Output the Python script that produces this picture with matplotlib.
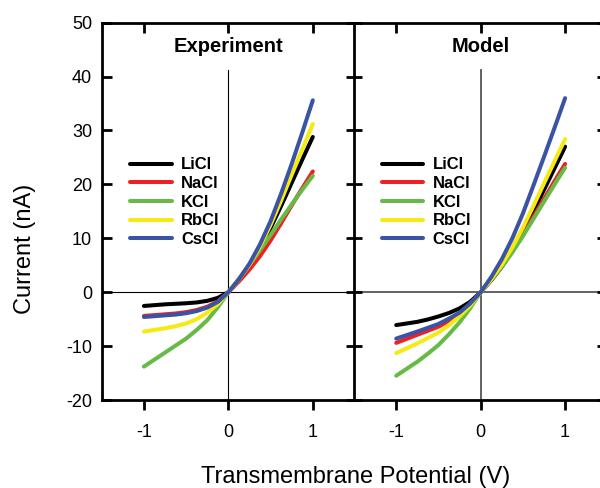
import matplotlib
matplotlib.use("Agg")
import matplotlib.pyplot as plt

plt.rcParams['font.family'] = ['Liberation Sans', 'DejaVu Sans']

# potentials (V) at which the curves were read
volts = [-1.0, -0.875, -0.75, -0.625, -0.5, -0.375, -0.25, -0.125, 0.0,
         0.125, 0.25, 0.375, 0.5, 0.625, 0.75, 0.875, 1.0]

salts = ["LiCl", "NaCl", "KCl", "RbCl", "CsCl"]
colors = ["#000000", "#ee2024", "#66bb46", "#f5ea14", "#3b53a4"]

# Experiment currents (nA)
exp_licl = [-2.55, -2.4, -2.25, -2.15, -2.05, -1.9, -1.6, -1.05, 0.0,
            2.3, 4.9, 8.1, 11.9, 16.0, 20.3, 24.6, 28.8]
exp_nacl = [-4.4, -4.25, -4.1, -3.95, -3.7, -3.3, -2.7, -1.7, 0.0,
            2.0, 4.2, 6.7, 9.6, 12.8, 16.1, 19.3, 22.4]
exp_kcl = [-13.8, -12.5, -11.2, -9.9, -8.6, -7.0, -5.2, -2.8, 0.0,
           2.5, 5.1, 7.8, 10.6, 13.5, 16.3, 19.0, 21.6]
exp_rbcl = [-7.3, -7.0, -6.7, -6.3, -5.8, -5.0, -3.8, -2.2, 0.0,
            2.4, 5.1, 8.5, 12.5, 17.0, 21.8, 26.5, 31.2]
exp_cscl = [-4.6, -4.45, -4.3, -4.15, -3.9, -3.5, -2.85, -1.8, 0.0,
            2.4, 5.3, 8.9, 13.2, 18.3, 23.8, 29.6, 35.6]

# Model currents (nA)
mod_licl = [-6.1, -5.8, -5.5, -5.05, -4.5, -3.85, -3.0, -1.8, 0.0,
            2.2, 4.7, 7.7, 11.1, 15.0, 19.0, 23.0, 27.0]
mod_nacl = [-9.4, -8.65, -7.9, -7.15, -6.4, -5.3, -4.0, -2.2, 0.0,
            2.3, 4.8, 7.6, 10.7, 14.0, 17.3, 20.6, 23.8]
mod_kcl = [-15.5, -14.2, -12.9, -11.4, -9.8, -7.8, -5.6, -3.0, 0.0,
           2.3, 4.7, 7.4, 10.4, 13.6, 16.8, 20.0, 23.1]
mod_rbcl = [-11.3, -10.4, -9.5, -8.5, -7.5, -6.1, -4.5, -2.5, 0.0,
            2.4, 5.1, 8.3, 12.0, 16.0, 20.2, 24.3, 28.4]
mod_cscl = [-8.6, -7.95, -7.3, -6.6, -5.9, -4.9, -3.8, -2.1, 0.0,
            2.8, 6.1, 10.0, 14.6, 19.8, 25.1, 30.5, 36.0]

exp_data = [exp_licl, exp_nacl, exp_kcl, exp_rbcl, exp_cscl]
mod_data = [mod_licl, mod_nacl, mod_kcl, mod_rbcl, mod_cscl]
xt = [-1, 0, 1]
yt = list(range(-20, 51, 10))

fig = plt.figure(figsize=(6.0, 4.88), dpi=100)
ax1 = fig.add_axes([0.1695, 0.1803, 0.4222, 0.7732])
ax2 = fig.add_axes([0.59, 0.1803, 0.4222, 0.7732])


def draw_panel(ax, data, title, zcol, zlw, leg_x):
    ax.axhline(0, color=zcol, lw=zlw, zorder=1)
    ax.plot([0, 0], [-20, 41.2], color=zcol, lw=zlw, zorder=1)
    for name, col, y in zip(salts, colors, data):
        ax.plot(volts, y, color=col, lw=2.9, label=name,
                solid_capstyle='round', solid_joinstyle='round', zorder=3)
    ax.set_xlim(-1.5, 1.5)
    ax.set_ylim(-20, 50)
    ax.set_xticks(xt)
    ax.set_xticklabels(["-1", "0", "1"])
    ax.set_yticks(yt)
    for s in ax.spines.values():
        s.set_linewidth(2.0)
    ax.tick_params(axis='x', direction='out', length=7, width=2,
                   labelsize=13, pad=10)
    ax.text(0, 45.5, title, ha='center', va='center',
            fontsize=14.5, fontweight='bold')
    leg = ax.legend(loc='upper left', bbox_to_anchor=(leg_x, 0.643),
                    frameon=False, handlelength=2.5,
                    handletextpad=0.55, labelspacing=0.22, borderpad=0,
                    borderaxespad=0, prop={'weight': 'bold', 'size': 12})
    for line in leg.get_lines():
        line.set_linewidth(2.9)

    # inward ticks along the top edge
    top = ax.twiny()
    top.set_xlim(ax.get_xlim())
    top.set_xticks(xt)
    top.tick_params(axis='x', direction='in', length=7, width=2,
                    top=True, labeltop=False)
    for s in top.spines.values():
        s.set_visible(False)
    return top


draw_panel(ax1, exp_data, "Experiment", "black", 0.8, 0.112)
top2 = draw_panel(ax2, mod_data, "Model", "#555555", 1.3, 0.109)

ax1.tick_params(axis='y', direction='in', length=7, width=2,
                labelsize=13, pad=7, right=False)
ytl = ["-20", "-10", "0", "10", "20", "30", "40", "50"]
ax1.set_yticklabels(ytl)
ax2.tick_params(axis='y', direction='inout', length=12, width=2,
                labelleft=False)

# inward ticks on the far right edge of the model panel
right = ax2.twinx()
right.set_ylim(ax2.get_ylim())
right.set_yticks(yt)
right.tick_params(axis='y', direction='in', length=7, width=2,
                  right=True, labelright=False)
for s in right.spines.values():
    s.set_visible(False)

fig.text(0.042, 0.49, "Current (nA)", rotation=90, ha='center',
         va='center', fontsize=17)
fig.text(0.592, 0.0225, "Transmembrane Potential (V)", ha='center',
         va='center', fontsize=17)

fig.savefig("out.png", dpi=100)
